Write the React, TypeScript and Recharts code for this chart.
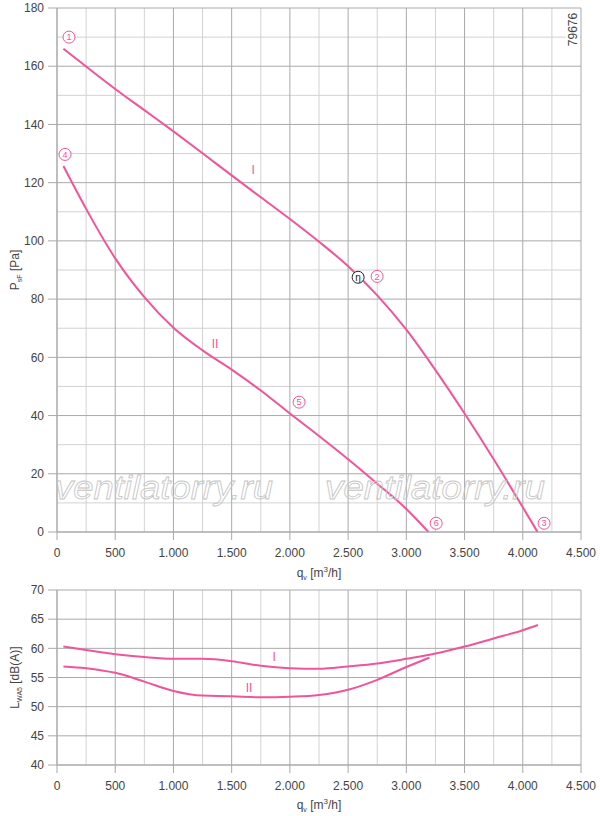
import { LineChart, Line, XAxis, YAxis, CartesianGrid, ReferenceDot } from 'recharts'

const PINK = '#f0559b'
const GRID = '#a9a9a9'
const GRID_MINOR = '#d2d2d2'
const TEXT = '#444'
const FONT = 'Liberation Sans, Arial, sans-serif'

const qTicks = [0, 500, 1000, 1500, 2000, 2500, 3000, 3500, 4000, 4500]
const qMinor = [250, 750, 1250, 1750, 2250, 2750, 3250, 3750, 4250]
const pTicks = [0, 20, 40, 60, 80, 100, 120, 140, 160, 180]
const pMinor = [10, 30, 50, 70, 90, 110, 130, 150, 170]
const lTicks = [40, 45, 50, 55, 60, 65, 70]

// pressure curves, P_sF [Pa] over q_v [m3/h]
const pressureI = [
  { q: 55, p: 166 }, { q: 250, p: 159.9 }, { q: 500, p: 152.2 }, { q: 750, p: 144.9 },
  { q: 1000, p: 137.6 }, { q: 1250, p: 130.1 }, { q: 1500, p: 122.5 }, { q: 1750, p: 115 },
  { q: 2000, p: 107.5 }, { q: 2250, p: 99.7 }, { q: 2500, p: 91.3 }, { q: 2750, p: 81.3 },
  { q: 3000, p: 69.5 }, { q: 3250, p: 55.6 }, { q: 3500, p: 40.7 }, { q: 3750, p: 25 },
  { q: 4000, p: 8.5 }, { q: 4127, p: 0 },
]
const pressureII = [
  { q: 55, p: 125.7 }, { q: 250, p: 111 }, { q: 500, p: 94 }, { q: 750, p: 80.7 },
  { q: 1000, p: 70.2 }, { q: 1250, p: 62.4 }, { q: 1500, p: 55.8 }, { q: 1750, p: 48.6 },
  { q: 2000, p: 40.7 }, { q: 2250, p: 33 }, { q: 2500, p: 25 }, { q: 2750, p: 16.6 },
  { q: 3000, p: 7.9 }, { q: 3190, p: 0 },
]

// sound power curves, L_WA5 [dB(A)]
const soundI = [
  { q: 55, l: 60.3 }, { q: 250, l: 59.7 }, { q: 500, l: 59 }, { q: 750, l: 58.5 },
  { q: 1000, l: 58.2 }, { q: 1250, l: 58.2 }, { q: 1500, l: 57.8 }, { q: 1750, l: 57 },
  { q: 2000, l: 56.6 }, { q: 2250, l: 56.5 }, { q: 2500, l: 56.9 }, { q: 2750, l: 57.4 },
  { q: 3000, l: 58.2 }, { q: 3250, l: 59.1 }, { q: 3500, l: 60.3 }, { q: 3750, l: 61.7 },
  { q: 4000, l: 63.1 }, { q: 4130, l: 64 },
]
const soundII = [
  { q: 55, l: 56.9 }, { q: 250, l: 56.6 }, { q: 500, l: 55.8 }, { q: 750, l: 54.3 },
  { q: 1000, l: 52.7 }, { q: 1250, l: 51.9 }, { q: 1500, l: 51.8 }, { q: 1750, l: 51.6 },
  { q: 2000, l: 51.7 }, { q: 2250, l: 52 }, { q: 2500, l: 52.9 }, { q: 2750, l: 54.6 },
  { q: 3000, l: 56.8 }, { q: 3197, l: 58.4 },
]

// circled point numbers and curve names
const pressureMarks = [
  { q: 103, p: 170, t: '1' }, { q: 2749, p: 87.8, t: '2' }, { q: 4183, p: 3, t: '3' },
  { q: 69, p: 129.7, t: '4' }, { q: 2079, p: 44.6, t: '5' }, { q: 3256, p: 3, t: '6' },
]
const etaMark = { q: 2586, p: 87.5 }
const pressureNames = [{ q: 1684, p: 124.3, t: 'I' }, { q: 1357, p: 64.7, t: 'II' }]
const soundNames = [{ q: 1864, l: 58.5, t: 'I' }, { q: 1649, l: 53.2, t: 'II' }]

const fmtQ = (v: number) =>
  v >= 1000 ? `${Math.floor(v / 1000)}.${String(v % 1000).padStart(3, '0')}` : String(v)

const tickStyle = { fontSize: 12, fill: TEXT, fontFamily: FONT }

function QTitle({ viewBox, dy }: any) {
  const { x, y, width } = viewBox
  return (
    <text x={x + width / 2} y={y + dy} textAnchor="middle" fontSize={12} fill={TEXT} fontFamily={FONT}>
      q<tspan fontSize={7} dy={3}>v</tspan>
      <tspan dy={-3}> [m</tspan>
      <tspan fontSize={8} dy={-5}>3</tspan>
      <tspan dy={5}>/h]</tspan>
    </text>
  )
}

function VTitle({ viewBox, main, sub, rest }: any) {
  const cx = 19
  const cy = viewBox.y + viewBox.height / 2
  return (
    <text
      x={cx} y={cy} textAnchor="middle" fontSize={12} fill={TEXT} fontFamily={FONT}
      transform={`rotate(-90 ${cx} ${cy})`}
    >
      {main}<tspan fontSize={7} dy={3}>{sub}</tspan>
      <tspan dy={-3}>{rest}</tspan>
    </text>
  )
}

export default function App() {
  return (
    <div style={{ position: 'absolute', left: 0, top: 0, width: 600, height: 816, background: '#fff' }}>
      <div style={{ position: 'absolute', left: 0, top: 0 }}>
        <LineChart width={600} height={590} margin={{ top: 8, right: 19, left: 0, bottom: 8 }}>
          <CartesianGrid stroke={GRID_MINOR} verticalValues={qMinor} horizontalValues={pMinor} />
          <CartesianGrid stroke={GRID} verticalValues={qTicks} horizontalValues={pTicks} />
          <XAxis
            dataKey="q" type="number" domain={[0, 4500]} ticks={qTicks} tickFormatter={fmtQ}
            tick={tickStyle} tickSize={8} tickMargin={8} height={50}
            stroke={GRID} allowDataOverflow
            label={{ content: (props: any) => <QTitle {...props} dy={45} /> }}
          />
          <YAxis
            type="number" domain={[0, 180]} ticks={pTicks} tick={tickStyle}
            tickSize={9} tickMargin={4} width={57} stroke={GRID}
            label={{ content: (props: any) => <VTitle {...props} main="P" sub="sF" rest=" [Pa]" /> }}
          />
          <Line data={pressureI} dataKey="p" type="monotone" stroke={PINK} strokeWidth={2} dot={false} isAnimationActive={false} />
          <Line data={pressureII} dataKey="p" type="monotone" stroke={PINK} strokeWidth={2} dot={false} isAnimationActive={false} />
          {pressureMarks.map((m) => (
            <ReferenceDot
              key={m.t} x={m.q} y={m.p} r={6} fill="#fff" stroke={PINK} strokeWidth={1}
              label={{ value: m.t, position: 'center', fill: PINK, fontSize: 9, fontFamily: FONT }}
            />
          ))}
          <ReferenceDot
            x={etaMark.q} y={etaMark.p} r={6} fill="#fff" stroke="#222" strokeWidth={1}
            label={{ value: 'η', position: 'center', fill: '#222', fontSize: 10, fontFamily: FONT }}
          />
          {pressureNames.map((m) => (
            <ReferenceDot
              key={m.t} x={m.q} y={m.p} r={0} fill="none" stroke="none"
              label={{ value: m.t, position: 'center', fill: PINK, fontSize: 12, fontFamily: FONT }}
            />
          ))}
        </LineChart>
      </div>

      <div style={{ position: 'absolute', left: 0, top: 580 }}>
        <LineChart width={600} height={236} margin={{ top: 10, right: 19, left: 0, bottom: 6 }}>
          <CartesianGrid stroke={GRID_MINOR} verticalValues={qMinor} horizontal={false} />
          <CartesianGrid stroke={GRID} verticalValues={qTicks} horizontalValues={lTicks} />
          <XAxis
            dataKey="q" type="number" domain={[0, 4500]} ticks={qTicks} tickFormatter={fmtQ}
            tick={tickStyle} tickSize={8} tickMargin={8} height={45}
            stroke={GRID} allowDataOverflow
            label={{ content: (props: any) => <QTitle {...props} dy={44} /> }}
          />
          <YAxis
            type="number" domain={[40, 70]} ticks={lTicks} tick={tickStyle}
            tickSize={9} tickMargin={4} width={57} stroke={GRID}
            label={{ content: (props: any) => <VTitle {...props} main="L" sub="WA5" rest=" [dB(A)]" /> }}
          />
          <Line data={soundI} dataKey="l" type="monotone" stroke={PINK} strokeWidth={2} dot={false} isAnimationActive={false} />
          <Line data={soundII} dataKey="l" type="monotone" stroke={PINK} strokeWidth={2} dot={false} isAnimationActive={false} />
          {soundNames.map((m) => (
            <ReferenceDot
              key={m.t} x={m.q} y={m.l} r={0} fill="none" stroke="none"
              label={{ value: m.t, position: 'center', fill: PINK, fontSize: 12, fontFamily: FONT }}
            />
          ))}
        </LineChart>
      </div>

      <svg width={600} height={816} style={{ position: 'absolute', left: 0, top: 0, pointerEvents: 'none' }}>
        <g fontFamily={FONT} fontStyle="italic" fontSize={34} fill="none" stroke="#c4c4c4" strokeWidth={0.8}>
          <text x={55} y={499} textLength={218} lengthAdjust="spacingAndGlyphs">ventilatorry.ru</text>
          <text x={325} y={499} textLength={220} lengthAdjust="spacingAndGlyphs">ventilatorry.ru</text>
        </g>
        <rect x={566} y={10} width={14} height={38} fill="#fff" />
        <text
          x={577} y={29.5} textAnchor="middle" fontSize={12} fill={TEXT} fontFamily={FONT}
          transform="rotate(-90 577 29.5)"
        >
          79676
        </text>
      </svg>
    </div>
  )
}
